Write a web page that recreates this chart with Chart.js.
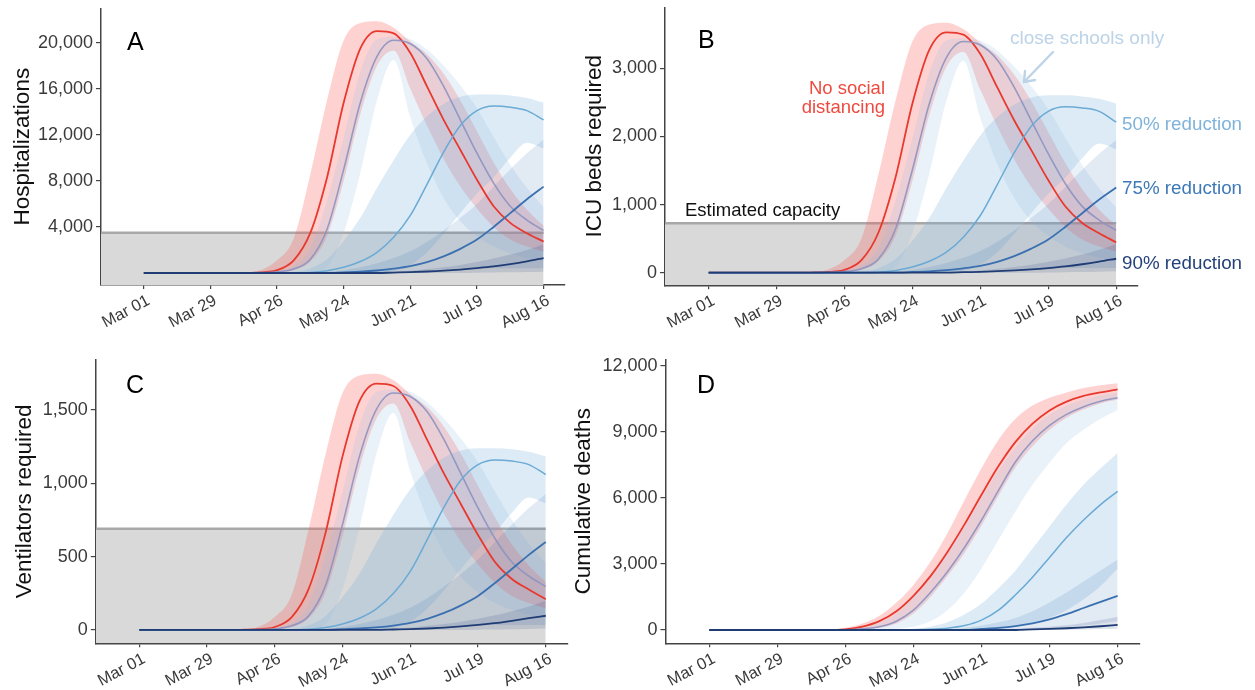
<!DOCTYPE html>
<html><head><meta charset="utf-8">
<script src="https://cdn.jsdelivr.net/npm/chart.js@4.4.1/dist/chart.umd.min.js"></script>
<style>
html,body{margin:0;padding:0;background:#fff}
body{width:1255px;height:690px;overflow:hidden;position:relative;font-family:"Liberation Sans",Arial,sans-serif}
canvas{position:absolute}
.t{position:absolute;white-space:nowrap;line-height:1}
</style></head><body>
<canvas id="cA" width="580" height="340" style="left:0;top:0;width:580px;height:340px"></canvas>
<canvas id="cB" width="585" height="340" style="left:570px;top:0;width:585px;height:340px"></canvas>
<canvas id="cC" width="580" height="350" style="left:0;top:340px;width:580px;height:350px"></canvas>
<canvas id="cD" width="585" height="350" style="left:570px;top:340px;width:585px;height:350px"></canvas>

<div class="t" style="left:127px;top:28.5px;font-size:25px;color:#000">A</div>
<div class="t" style="left:698px;top:26.5px;font-size:25px;color:#000">B</div>
<div class="t" style="left:126px;top:372px;font-size:25px;color:#000">C</div>
<div class="t" style="left:697px;top:372px;font-size:25px;color:#000">D</div>

<div class="t" style="right:370px;top:78.4px;font-size:18.5px;line-height:19px;color:#ef4a3f;text-align:right">No social<br>distancing</div>
<div class="t" style="left:1010px;top:27.8px;font-size:19px;color:#bcd3e8">close schools only</div>
<div class="t" style="left:685px;top:201px;font-size:18.5px;color:#111">Estimated capacity</div>
<div class="t" style="left:1122px;top:114.6px;font-size:18.8px;color:#7fb3da">50% reduction</div>
<div class="t" style="left:1122px;top:179.2px;font-size:18.8px;color:#3d79b9">75% reduction</div>
<div class="t" style="left:1122px;top:254.2px;font-size:18.8px;color:#24427a">90% reduction</div>
<svg style="position:absolute;left:0;top:0" width="1255" height="690">
  <g stroke="#bcd3e8" stroke-width="2.4" fill="none" stroke-linecap="round">
    <line x1="1053" y1="52" x2="1024" y2="82"/>
    <polyline points="1025,71 1024,82 1035,80"/>
  </g>
</svg>

<script>
// ---------- shared axes ----------
const DAYS = [0,7,14,21,28,35,42,49,56,63,70,77,84,91,98,105,112,119,126,133,140,147,154,161,168];
const TICK_DAYS = [0,28,56,84,112,140,168];
const TICK_LABELS = ['Mar 01','Mar 29','Apr 26','May 24','Jun 21','Jul 19','Aug 16'];
const X_MIN = -18, X_MAX = 177, CAP_END = 168;

// ---------- A: Hospitalizations ----------
const hospNoSD      = [0,0,0,0,0,0,10,60,250,1100,3500,8300,14800,19500,21000,20800,19100,16200,13300,10700,8100,5800,4350,3450,2730];
const hospNoSDLo    = [0,0,0,0,0,0,0,10,60,250,1000,3200,8000,13800,18000,19300,16000,12800,9900,7500,5600,4000,2900,2300,1850];
const hospNoSDHi    = [0,0,0,0,0,0,40,250,1100,3000,8600,15000,20200,21700,21850,21300,20100,19000,17300,15000,12300,9600,7300,5500,4100];
const hospSchool    = [0,0,0,0,0,0,0,30,100,350,1200,3800,9000,14800,18800,20200,19900,18600,16200,13300,10400,7800,5800,4600,3700];
const hospSchoolLo  = [0,0,0,0,0,0,0,0,0,0,50,500,3500,8700,15000,18500,13500,9500,6500,4500,3200,2300,1700,1300,1000];
const hospSchoolHi  = [0,0,0,0,0,0,0,30,150,600,2200,6300,11800,17500,20300,20500,20300,19400,18000,16300,14300,11800,9400,7400,5700];
const hosp50        = [0,0,0,0,0,0,0,0,0,0,50,200,500,1000,1800,3100,5000,7700,10500,12800,14100,14500,14400,14100,13300];
const hosp50Hi      = [0,0,0,0,0,0,0,0,0,100,400,1200,2800,4800,7400,9800,12000,13600,14700,15300,15500,15500,15400,15200,14800];
const hosp50Lo      = [0,0,0,0,0,0,0,0,0,0,0,0,0,0,0,200,700,1800,3400,5200,6900,8300,10000,11300,10800];
const hosp75        = [0,0,0,0,0,0,0,0,0,0,0,0,60,120,220,380,600,950,1450,2100,2900,4000,5200,6400,7500];
const hosp75Hi      = [0,0,0,0,0,0,0,0,0,0,0,100,250,500,850,1300,1900,2700,3700,4800,6000,7500,9000,10400,11600];
const hosp75Lo      = [0,0,0,0,0,0,0,0,0,0,0,0,0,0,0,50,150,250,320,370,400,410,410,410,410];
const hosp90        = [0,0,0,0,0,0,0,0,0,0,0,0,0,0,0,40,80,130,200,300,430,580,780,1020,1300];
const hosp90Hi      = [0,0,0,0,0,0,0,0,0,0,0,0,0,0,40,100,200,350,500,700,950,1250,1600,2000,2500];
const hosp90Lo      = [0,0,0,0,0,0,0,0,0,0,0,0,0,0,0,0,0,0,0,0,20,40,60,90,120];
const hospCapacity = 3500;
const hospTicks = [4000,8000,12000,16000,20000];

// ---------- B: ICU beds ----------
const icuNoSD      = [0,0,0,0,0,0,2,10,42,185,590,1395,2485,3275,3530,3495,3210,2720,2235,1800,1360,975,730,580,445];
const icuNoSDLo    = [0,0,0,0,0,0,0,2,10,42,168,538,1344,2318,3024,3242,2688,2150,1663,1260,941,672,487,386,311];
const icuNoSDHi    = [0,0,0,0,0,0,7,42,185,504,1445,2520,3394,3646,3671,3578,3377,3192,2906,2520,2066,1613,1226,924,689];
const icuSchool    = [0,0,0,0,0,0,0,5,17,59,202,638,1512,2486,3158,3394,3343,3125,2722,2234,1747,1310,974,773,622];
const icuSchoolLo  = [0,0,0,0,0,0,0,0,0,0,8,84,588,1462,2520,3108,2268,1596,1092,756,538,386,286,218,168];
const icuSchoolHi  = [0,0,0,0,0,0,0,5,25,101,370,1058,1982,2940,3410,3444,3410,3259,3024,2738,2402,1982,1579,1243,958];
const icu50        = [0,0,0,0,0,0,0,0,0,0,8,34,84,168,302,521,840,1294,1764,2150,2369,2436,2419,2369,2210];
const icu50Hi      = [0,0,0,0,0,0,0,0,0,17,67,202,470,806,1243,1646,2016,2285,2470,2570,2604,2604,2587,2554,2486];
const icu50Lo      = [0,0,0,0,0,0,0,0,0,0,0,0,0,0,0,34,118,302,571,874,1159,1394,1680,1898,1814];
const icu75        = [0,0,0,0,0,0,0,0,0,0,0,0,10,20,37,64,101,160,244,353,487,672,874,1075,1250];
const icu75Hi      = [0,0,0,0,0,0,0,0,0,0,0,17,42,84,143,218,319,454,622,806,1008,1260,1512,1747,1949];
const icu75Lo      = [0,0,0,0,0,0,0,0,0,0,0,0,0,0,0,8,25,42,54,62,67,69,69,69,69];
const icu90        = [0,0,0,0,0,0,0,0,0,0,0,0,0,0,0,7,13,22,33,48,68,92,124,162,205];
const icu90Hi      = [0,0,0,0,0,0,0,0,0,0,0,0,0,0,7,17,34,59,84,118,160,210,269,336,420];
const icu90Lo      = [0,0,0,0,0,0,0,0,0,0,0,0,0,0,0,0,0,0,0,0,3,7,10,15,20];
const icuCapacity = 725;
const icuTicks = [0,1000,2000,3000];

// ---------- C: Ventilators ----------
const ventNoSD      = [0,0,0,0,0,0,1,5,20,88,280,664,1184,1560,1680,1664,1528,1296,1064,856,648,464,348,276,210];
const ventNoSDLo    = [0,0,0,0,0,0,0,1,5,20,80,256,640,1104,1440,1544,1280,1024,792,600,448,320,232,184,148];
const ventNoSDHi    = [0,0,0,0,0,0,3,20,88,240,688,1200,1616,1736,1748,1704,1608,1520,1384,1200,984,768,584,440,328];
const ventSchool    = [0,0,0,0,0,0,0,2,8,28,96,304,720,1184,1504,1616,1592,1488,1296,1064,832,624,464,368,296];
const ventSchoolLo  = [0,0,0,0,0,0,0,0,0,0,4,40,280,696,1200,1480,1080,760,520,360,256,184,136,104,80];
const ventSchoolHi  = [0,0,0,0,0,0,0,2,12,48,176,504,944,1400,1624,1640,1624,1552,1440,1304,1144,944,752,592,456];
const vent50        = [0,0,0,0,0,0,0,0,0,0,4,16,40,80,144,248,400,616,840,1024,1128,1160,1152,1128,1060];
const vent50Hi      = [0,0,0,0,0,0,0,0,0,8,32,96,224,384,592,784,960,1088,1176,1224,1240,1240,1232,1216,1184];
const vent50Lo      = [0,0,0,0,0,0,0,0,0,0,0,0,0,0,0,16,56,144,272,416,552,664,800,904,864];
const vent75        = [0,0,0,0,0,0,0,0,0,0,0,0,5,10,18,30,48,76,116,168,232,320,416,512,600];
const vent75Hi      = [0,0,0,0,0,0,0,0,0,0,0,8,20,40,68,104,152,216,296,384,480,600,720,832,928];
const vent75Lo      = [0,0,0,0,0,0,0,0,0,0,0,0,0,0,0,4,12,20,26,30,32,33,33,33,33];
const vent90        = [0,0,0,0,0,0,0,0,0,0,0,0,0,0,0,3,6,10,16,24,34,46,62,80,97];
const vent90Hi      = [0,0,0,0,0,0,0,0,0,0,0,0,0,0,3,8,16,28,40,56,76,100,128,160,200];
const vent90Lo      = [0,0,0,0,0,0,0,0,0,0,0,0,0,0,0,0,0,0,0,0,2,3,5,7,10];
const ventCapacity = 690;
const ventTicks = [0,500,1000,1500];

// ---------- D: Cumulative deaths ----------
const deathNoSD      = [0,0,0,0,0,0,0,0,30,150,400,850,1550,2450,3550,4800,6150,7450,8550,9380,9980,10380,10640,10800,10940];
const deathNoSDLo    = [0,0,0,0,0,0,0,0,0,30,100,300,750,1500,2450,3500,4750,6100,7400,8350,9100,9650,10020,10300,10480];
const deathNoSDHi    = [0,0,0,0,0,0,0,10,100,300,650,1250,2050,3100,4400,5900,7350,8650,9600,10200,10560,10800,11000,11120,11220];
const deathSchool    = [0,0,0,0,0,0,0,0,0,50,150,400,900,1700,2650,3750,5000,6350,7650,8600,9300,9800,10150,10400,10560];
const deathSchoolLo  = [0,0,0,0,0,0,0,0,0,0,20,60,150,400,900,1700,2800,4100,5400,6600,7600,8500,9100,9600,10000];
const deathSchoolHi  = [0,0,0,0,0,0,0,0,20,120,340,760,1550,2500,3550,4700,6000,7250,8300,9150,9780,10200,10480,10660,10800];
const death50        = [0,0,0,0,0,0,0,0,0,0,0,0,10,30,80,200,450,900,1600,2400,3300,4200,5000,5700,6300];
const death50Hi      = [0,0,0,0,0,0,0,0,0,0,0,20,60,150,350,700,1200,1900,2700,3700,4700,5700,6600,7350,8050];
const death50Lo      = [0,0,0,0,0,0,0,0,0,0,0,0,0,0,0,0,0,50,150,300,550,900,1400,2000,2800];
const death75        = [0,0,0,0,0,0,0,0,0,0,0,0,0,0,0,0,50,100,180,300,480,720,1000,1280,1550];
const death75Hi      = [0,0,0,0,0,0,0,0,0,0,0,0,0,0,0,100,200,350,550,850,1250,1700,2200,2700,3200];
const death75Lo      = [0,0,0,0,0,0,0,0,0,0,0,0,0,0,0,0,0,0,20,40,80,130,200,300,400];
const death90        = [0,0,0,0,0,0,0,0,0,0,0,0,0,0,0,0,0,0,0,30,50,80,120,170,230];
const death90Hi      = [0,0,0,0,0,0,0,0,0,0,0,0,0,0,0,0,0,30,60,100,150,220,320,450,600];
const death90Lo      = [0,0,0,0,0,0,0,0,0,0,0,0,0,0,0,0,0,0,0,0,0,10,20,40,60];
const deathTicks = [0,3000,6000,9000,12000];

// ---------- styles (no data) ----------
const STYLES = [
  {line:'#e8392f', band:'rgba(255,90,90,0.27)', w:1.8},   // no social distancing
  {line:'rgba(140,148,192,0.9)', band:'rgba(150,190,225,0.2)', w:1.6}, // close schools
  {line:'#6aaad5', band:'rgba(120,175,220,0.25)', w:1.5}, // 50%
  {line:'#3a70b0', band:'rgba(60,115,180,0.15)', w:1.8},  // 75%
  {line:'#203c75', band:'rgba(35,65,125,0.15)', w:1.8}    // 90%
];
const FONT = '"Liberation Sans", Arial, sans-serif';
Chart.defaults.font.family = FONT;

function pts(arr){ return DAYS.map((d,i)=>({x:d, y:arr[i]})); }

function makePanel(id, p){
  const ds = [];
  if (p.cap != null){
    ds.push({data:[{x:X_MIN,y:p.cap},{x:CAP_END,y:p.cap}], fill:'start', backgroundColor:'#d9d9d9',
      borderColor:'#a8a8a8', borderWidth:2.5, pointRadius:0, tension:0, order:100});
  }
  p.series.forEach((s,i)=>{
    const loIdx = ds.length;
    ds.push({data:pts(s[1]), borderColor:'rgba(0,0,0,0)', borderWidth:0, pointRadius:0, fill:false,
      cubicInterpolationMode:'monotone', order:60-i});
    ds.push({data:pts(s[2]), borderColor:'rgba(0,0,0,0)', borderWidth:0, pointRadius:0, fill:loIdx,
      backgroundColor:STYLES[i].band, cubicInterpolationMode:'monotone', order:60-i});
  });
  p.series.forEach((s,i)=>{
    ds.push({data:pts(s[0]), borderColor:STYLES[i].line, borderWidth:STYLES[i].w, pointRadius:0, fill:false,
      cubicInterpolationMode:'monotone', order:20-i});
  });
  new Chart(document.getElementById(id), {
    type:'line',
    data:{datasets:ds},
    options:{
      responsive:false, animation:false, events:[],
      layout:{padding:{left:0, top:p.top, right:p.right, bottom:0}},
      plugins:{legend:{display:false}, tooltip:{enabled:false}},
      scales:{
        x:{type:'linear', min:X_MIN, max:X_MAX,
          afterBuildTicks:s=>{ s.ticks = TICK_DAYS.map(v=>({value:v})); },
          afterFit:s=>{ s.height = p.xh; s.paddingLeft=0; s.paddingRight=0; },
          ticks:{autoSkip:false, minRotation:28, maxRotation:28, padding:2, labelOffset:5, color:'#3a3a3a',
            font:{size:16.5}, callback:v=>TICK_LABELS[TICK_DAYS.indexOf(v)]},
          grid:{drawOnChartArea:false, drawTicks:true, tickLength:4, color:'#444', lineWidth:1.2},
          border:{display:true, color:'#444', width:1.5}
        },
        y:{type:'linear', min:p.ymin, max:p.ymax,
          afterBuildTicks:s=>{ s.ticks = p.ticks.map(v=>({value:v})); },
          afterFit:s=>{ s.width = p.yw; s.paddingTop=0; s.paddingBottom=0; },
          ticks:{padding:3, color:'#3a3a3a', font:{size:18}, callback:v=>v.toLocaleString('en-US')},
          grid:{drawOnChartArea:false, drawTicks:true, tickLength:5, color:'#444', lineWidth:1.2},
          border:{display:true, color:'#444', width:1.5},
          title:{display:true, text:p.title, color:'#111', font:{size:22.5, lineHeight:1},
            padding:{top:p.tpad, bottom:0}}
        }
      }
    }
  });
}

makePanel('cA', {title:'Hospitalizations', ymin:-1040, ymax:22980, ticks:hospTicks, cap:hospCapacity,
  top:8.3, right:15, yw:101, xh:55, tpad:11.6,
  series:[[hospNoSD,hospNoSDLo,hospNoSDHi],[hospSchool,hospSchoolLo,hospSchoolHi],
          [hosp50,hosp50Lo,hosp50Hi],[hosp75,hosp75Lo,hosp75Hi],[hosp90,hosp90Lo,hosp90Hi]]});
makePanel('cB', {title:'ICU beds required', ymin:-185, ymax:3897, ticks:icuTicks, cap:icuCapacity,
  top:7.3, right:17, yw:95, xh:54.7, tpad:14,
  series:[[icuNoSD,icuNoSDLo,icuNoSDHi],[icuSchool,icuSchoolLo,icuSchoolHi],
          [icu50,icu50Lo,icu50Hi],[icu75,icu75Lo,icu75Hi],[icu90,icu90Lo,icu90Hi]]});
makePanel('cC', {title:'Ventilators required', ymin:-91, ymax:1846, ticks:ventTicks, cap:ventCapacity,
  top:19.3, right:12.5, yw:95.8, xh:46.7, tpad:13.5,
  series:[[ventNoSD,ventNoSDLo,ventNoSDHi],[ventSchool,ventSchoolLo,ventSchoolHi],
          [vent50,vent50Lo,vent50Hi],[vent75,vent75Lo,vent75Hi],[vent90,vent90Lo,vent90Hi]]});
makePanel('cD', {title:'Cumulative deaths', ymin:-605, ymax:12305, ticks:deathTicks, cap:null,
  top:19.3, right:15.5, yw:95.5, xh:46.7, tpad:2.9,
  series:[[deathNoSD,deathNoSDLo,deathNoSDHi],[deathSchool,deathSchoolLo,deathSchoolHi],
          [death50,death50Lo,death50Hi],[death75,death75Lo,death75Hi],[death90,death90Lo,death90Hi]]});
</script>
</body></html>
